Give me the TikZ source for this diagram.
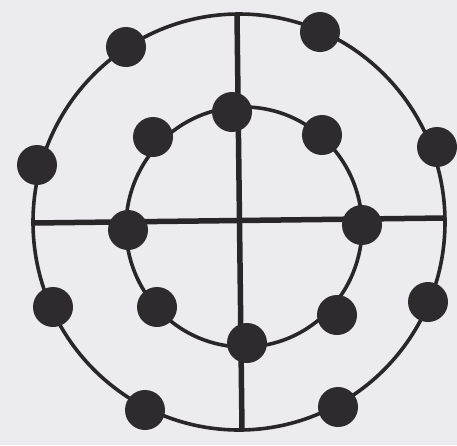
\documentclass[tikz,border=0pt]{standalone}
\definecolor{bg}{RGB}{236,235,240}
\definecolor{ink}{RGB}{40,38,40}
\definecolor{dotc}{RGB}{45,43,45}
\begin{document}
\begin{tikzpicture}[x=1pt,y=-1pt,
  dotn/.style={circle,fill=dotc,minimum size=40pt,inner sep=0pt},
  ring/.style={draw=ink,line width=3.6pt},
  axis/.style={draw=ink,line width=5.5pt}]
\fill[bg] (0,0) rectangle (457,445);
\useasboundingbox (0,0) rectangle (457,445);
% rings
\draw[ring] (239,222) ellipse [x radius=206, y radius=208];
\draw[ring] (244,227) ellipse [x radius=118, y radius=120];
% axes
\coordinate (vt) at (237,14);
\coordinate (vb) at (242,430);
\coordinate (hl) at (33,223);
\coordinate (hr) at (445,218);
\draw[axis] (vt) -- (vb);
\draw[axis] (hl) -- (hr);
% outer dots
\node[dotn] (o1) at (126,47) {};
\node[dotn] (o2) at (320,32) {};
\node[dotn] (o3) at (37,165) {};
\node[dotn] (o4) at (437,147) {};
\node[dotn] (o5) at (53,307) {};
\node[dotn] (o6) at (428,302) {};
\node[dotn] (o7) at (145,410) {};
\node[dotn] (o8) at (338,407) {};
% inner dots
\node[dotn] (i1) at (232,112) {};
\node[dotn] (i2) at (153,137) {};
\node[dotn] (i3) at (322,135) {};
\node[dotn] (i4) at (128,230) {};
\node[dotn] (i5) at (362,225) {};
\node[dotn] (i6) at (157,307) {};
\node[dotn] (i7) at (337,315) {};
\node[dotn] (i8) at (247,343) {};
\end{tikzpicture}
\end{document}
